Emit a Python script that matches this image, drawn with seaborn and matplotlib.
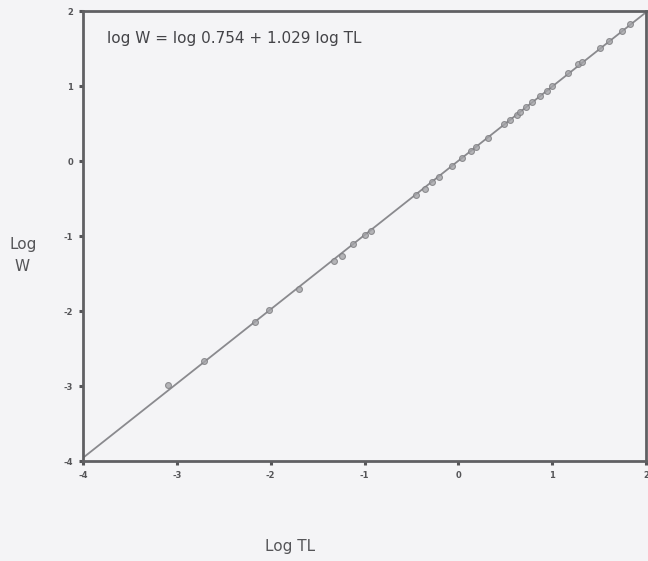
import matplotlib
matplotlib.use("Agg")
import matplotlib.pyplot as plt
import seaborn as sns
import numpy as np
import pandas as pd

# Data (log TL, log W)
log_tl = [-3.09, -2.71, -2.17, -2.02, -1.70, -1.33, -1.24, -1.12, -1.00, -0.93,
          -0.45, -0.36, -0.28, -0.21, -0.07, 0.04, 0.13, 0.19, 0.32, 0.49,
          0.55, 0.62, 0.66, 0.72, 0.79, 0.87, 0.94, 1.00, 1.17, 1.28,
          1.32, 1.51, 1.60, 1.74, 1.83]
log_w = [-2.98, -2.66, -2.15, -1.99, -1.70, -1.33, -1.27, -1.11, -0.99, -0.93,
         -0.45, -0.37, -0.28, -0.21, -0.07, 0.04, 0.13, 0.19, 0.31, 0.49,
         0.55, 0.62, 0.66, 0.72, 0.79, 0.87, 0.94, 1.00, 1.17, 1.29,
         1.32, 1.51, 1.60, 1.74, 1.83]
x_ticks = [-4, -3, -2, -1, 0, 1, 2]
y_ticks = [-4, -3, -2, -1, 0, 1, 2]
equation = "log W = log 0.754 + 1.029 log TL"

df = pd.DataFrame({"LogTL": log_tl, "LogW": log_w})

sns.set_theme(style="white")
plt.rcParams["font.family"] = ["DejaVu Sans"]
bg = "#f4f4f6"
fig = plt.figure(figsize=(6.48, 5.61), dpi=100, facecolor=bg)
ax = fig.add_axes([0.128, 0.178, 0.869, 0.802])
ax.set_facecolor(bg)
ax.set_xlim(-4, 2)
ax.set_ylim(-4, 2)

sns.regplot(data=df, x="LogTL", y="LogW", ax=ax, ci=None, truncate=False,
            scatter_kws=dict(s=18, facecolor="#a4a4a8", edgecolor="#7c7c80",
                             linewidths=0.8, zorder=3),
            line_kws=dict(color="#8a8a8e", lw=1.3, zorder=2))
ax.set_xlim(-4, 2)
ax.set_ylim(-4, 2)

ax.set_xticks(x_ticks)
ax.set_yticks(y_ticks)
ax.set_xticklabels([str(t) for t in x_ticks])
ax.set_yticklabels([str(t) for t in y_ticks])
ax.tick_params(axis="both", direction="out", length=3, width=2.2, color="#555558",
               labelsize=6, labelcolor="#555558", pad=4, bottom=True, left=True)
for lab in ax.get_xticklabels() + ax.get_yticklabels():
    lab.set_fontweight("bold")
for sp in ax.spines.values():
    sp.set_visible(True)
    sp.set_color("#606063")
    sp.set_linewidth(2)

ax.set_xlabel("")
ax.set_ylabel("")
ax.text(0.043, 0.955, equation, transform=ax.transAxes, fontsize=11,
        color="#444448", ha="left", va="top")
fig.text(0.448, 0.012, "Log TL", fontsize=11, color="#555558", ha="center", va="bottom")
fig.text(0.015, 0.565, "Log", fontsize=11, color="#555558", ha="left", va="center")
fig.text(0.022, 0.525, "W", fontsize=11, color="#555558", ha="left", va="center")

fig.savefig("out.png", dpi=100, facecolor=bg)
